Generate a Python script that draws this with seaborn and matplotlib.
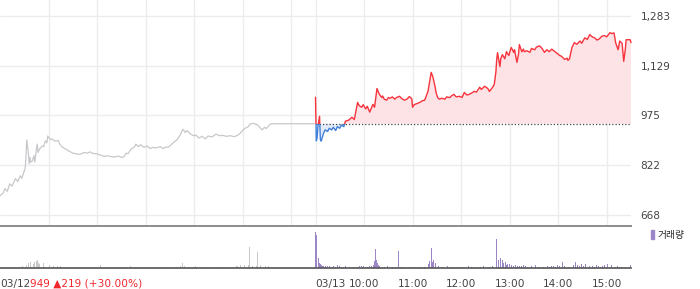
import matplotlib
matplotlib.use("Agg")
import matplotlib.pyplot as plt
import seaborn as sns
import numpy as np
from matplotlib.patches import Rectangle, Patch

# ---------------- data ----------------
base_price = 949
session_len = 390  # minutes 09:00-15:30

day1_min = [0, 4, 6, 9, 12, 15, 19, 22, 25, 27, 30, 31, 32, 33, 35, 36, 37, 38, 40, 42, 43, 45, 46, 47,
            49, 52, 54, 56, 58, 59, 62, 64, 68, 72, 74, 77, 80, 83, 87, 90, 94, 99, 104, 108, 111, 115,
            120, 124, 129, 132, 136, 141, 146, 150, 153, 156, 158, 162, 166, 168, 171, 174, 178, 182,
            186, 189, 193, 198, 202, 205, 208, 212, 215, 219, 223, 226, 229, 231, 235, 239, 242, 246,
            250, 254, 257, 262, 267, 271, 275, 280, 285, 289, 293, 297, 299, 303, 307, 309, 313, 317,
            319, 322, 324, 327, 329, 332, 334, 336, 389]
day1_price = [726, 735, 748, 740, 763, 756, 779, 770, 788, 780, 803, 810, 840, 899, 860, 825, 845, 830,
              834, 850, 830, 870, 886, 860, 871, 880, 878, 896, 890, 911, 900, 902, 895, 897, 885, 877,
              872, 868, 862, 858, 856, 854, 860, 858, 862, 857, 856, 852, 848, 850, 848, 846, 849, 845,
              846, 858, 856, 870, 877, 886, 878, 884, 876, 880, 872, 876, 874, 878, 872, 877, 876, 885,
              892, 900, 915, 932, 922, 928, 918, 912, 914, 905, 910, 902, 911, 908, 917, 912, 913, 910,
              912, 909, 912, 920, 926, 935, 940, 948, 950, 947, 944, 935, 930, 938, 934, 942, 948, 949,
              949]

day2_min = [0, 1, 2, 3, 5, 6, 7, 10, 12, 15, 17, 20, 22, 25, 27, 30, 32, 35, 37, 41, 45, 48, 52, 54, 57,
            59, 62, 64, 67, 71, 73, 76, 78, 79, 82, 83, 85, 88, 90, 92, 95, 98, 100, 104, 106, 110, 113,
            116, 119, 120, 122, 126, 129, 132, 135, 139, 143, 145, 148, 149, 151, 153, 156, 160, 162,
            166, 168, 171, 174, 178, 181, 184, 187, 190, 193, 196, 199, 203, 205, 209, 213, 215, 219,
            221, 223, 224, 225, 226, 228, 229, 231, 234, 236, 239, 241, 242, 245, 246, 249, 251, 252,
            255, 257, 258, 261, 265, 267, 271, 273, 277, 280, 283, 286, 289, 292, 296, 298, 302, 304,
            308, 311, 312, 314, 317, 320, 323, 327, 329, 333, 336, 339, 342, 345, 348, 351, 354, 357,
            360, 364, 366, 369, 371, 374, 375, 376, 379, 381, 383, 384, 386, 389, 390]
day2_price = [1031, 896, 905, 940, 972, 900, 895, 920, 930, 925, 935, 930, 938, 928, 940, 935, 945, 940,
              957, 960, 969, 962, 1015, 1005, 1000, 1008, 995, 1003, 985, 1009, 1000, 1058, 1045, 1040,
              1030, 1035, 1025, 1022, 1030, 1028, 1032, 1025, 1030, 1034, 1028, 1022, 1025, 1033, 1026,
              1000, 1008, 1012, 1015, 1020, 1022, 1049, 1108, 1095, 1062, 1046, 1030, 1025, 1028, 1025,
              1032, 1030, 1035, 1040, 1032, 1034, 1030, 1046, 1038, 1040, 1044, 1049, 1047, 1062, 1055,
              1065, 1058, 1049, 1062, 1071, 1110, 1148, 1169, 1155, 1126, 1150, 1163, 1150, 1172, 1160,
              1178, 1185, 1170, 1178, 1139, 1165, 1194, 1172, 1180, 1172, 1175, 1170, 1182, 1178, 1186,
              1190, 1182, 1170, 1178, 1172, 1180, 1172, 1168, 1160, 1158, 1148, 1152, 1145, 1150, 1185,
              1200, 1195, 1205, 1198, 1215, 1210, 1225, 1218, 1215, 1208, 1212, 1220, 1222, 1218, 1231,
              1228, 1230, 1200, 1178, 1190, 1205, 1198, 1142, 1180, 1209, 1209, 1209, 1200]

day1_vol_min = [2, 6, 10, 14, 17, 21, 25, 28, 31, 33, 35, 37, 38, 41, 42, 43, 45, 46, 47, 48, 49, 52, 54,
                57, 58, 61, 63, 66, 68, 71, 73, 75, 79, 83, 87, 92, 96, 101, 106, 111, 116, 124, 129,
                136, 143, 151, 156, 161, 163, 166, 168, 171, 174, 178, 186, 192, 198, 204, 210, 218,
                223, 225, 226, 228, 230, 233, 235, 239, 242, 246, 250, 257, 262, 270, 275, 282, 288,
                292, 294, 297, 299, 302, 304, 307, 308, 309, 312, 314, 317, 318, 319, 322, 324, 328,
                332, 335, 340]
day1_vol = [1, 1, 1, 1, 1, 1, 1, 2, 3, 3, 5, 2, 6, 4, 3, 6, 7, 8, 7, 5, 4, 3, 5, 3, 2, 3, 2, 2, 2, 2,
            2, 2, 1, 1, 1, 1, 1, 1, 1, 1, 1, 3, 1, 1, 1, 1, 1, 2, 2, 1, 2, 1, 1, 1, 1, 1, 1, 1, 1, 1,
            2, 2, 5, 2, 2, 1, 1, 1, 2, 1, 1, 1, 1, 1, 1, 1, 2, 2, 2, 3, 2, 3, 2, 3, 21, 2, 2, 3, 2, 16,
            2, 3, 2, 2, 2, 6, 1]

day2_vol_min = [0, 1, 2, 4, 5, 6, 7, 9, 10, 12, 15, 17, 20, 22, 25, 27, 30, 32, 35, 37, 40, 42, 45, 47,
                49, 52, 54, 57, 59, 62, 64, 67, 69, 72, 73, 74, 75, 77, 78, 79, 82, 85, 89, 92, 95, 99,
                103, 105, 109, 113, 116, 120, 124, 127, 131, 135, 139, 140, 141, 143, 144, 145, 146,
                148, 149, 150, 152, 156, 160, 163, 167, 171, 174, 178, 182, 186, 189, 193, 197, 200,
                204, 208, 212, 215, 219, 223, 224, 226, 227, 228, 229, 231, 232, 233, 235, 236, 237,
                238, 240, 242, 245, 247, 250, 252, 255, 257, 260, 262, 265, 267, 270, 272, 275, 277,
                280, 282, 285, 287, 289, 292, 294, 297, 299, 302, 305, 308, 311, 313, 316, 319, 321,
                324, 326, 329, 331, 334, 337, 339, 342, 345, 347, 350, 352, 355, 357, 359, 361, 364,
                366, 369, 371, 373, 376, 378, 389]
day2_vol = [36, 33, 12, 10, 5, 4, 3, 2, 2, 2, 2, 2, 1, 2, 1, 3, 2, 1, 1, 2, 1, 1, 1, 1, 2, 1, 2, 2, 2,
            1, 1, 2, 2, 3, 7, 19, 8, 5, 3, 2, 1, 1, 2, 1, 1, 1, 17, 1, 1, 2, 1, 1, 1, 1, 1, 1, 2, 4,
            7, 20, 10, 6, 8, 5, 3, 2, 2, 1, 1, 2, 1, 1, 1, 1, 1, 1, 2, 1, 1, 1, 1, 2, 1, 1, 2, 4, 29,
            8, 9, 7, 10, 8, 5, 4, 6, 3, 4, 3, 4, 3, 2, 3, 2, 2, 2, 3, 2, 1, 2, 2, 7, 3, 2, 1, 2, 1, 1,
            2, 1, 2, 2, 1, 3, 2, 6, 2, 2, 1, 2, 3, 6, 3, 2, 4, 2, 4, 3, 2, 2, 1, 3, 2, 1, 2, 3, 2, 4,
            2, 3, 2, 1, 2, 1, 1, 3]

y_ticks = [668, 822, 975, 1129, 1283]
x_tick_labels = ["03/12", "03/13", "10:00", "11:00", "12:00", "13:00", "14:00", "15:00"]
info_text = "949 \u25b2219 (+30.00%)"
legend_label = "거래량"

# ---------------- style ----------------
sns.set_style("white")
plt.rcParams["font.family"] = ["DejaVu Sans", "Noto Sans CJK KR"]

RED = "#f7343d"
BLUE = "#3f7fd8"
GRAY_LINE = "#c8c8cc"
PURPLE = "#9b86c8"
GRID = "#ececec"

W, H = 700, 289
fig = plt.figure(figsize=(W / 100, H / 100), dpi=100)
ax = fig.add_axes([0, 1 - 225.5 / H, 631 / W, 225.5 / H])
axv = fig.add_axes([0, 1 - 267.7 / H, 631 / W, (267.7 - 225.5) / H])

total = 2 * session_len
x2 = np.array(day2_min) + session_len
p2 = np.array(day2_price)

# ---------------- price panel ----------------
ax.set_xlim(0, total)
ax.set_ylim(634, 1332)
ax.set_xticks([60, 120, 180, 240, 300, 360, 390, 450, 510, 570, 630, 690, 750])
ax.tick_params(axis="x", length=0, labelbottom=False)
ax.set_yticks(y_ticks)
ax.set_yticklabels([f"{v:,}" for v in y_ticks])
ax.yaxis.tick_right()
ax.tick_params(axis="y", length=0, pad=7, labelsize=7.6, labelcolor="#444444")
ax.grid(True, color=GRID, lw=1)
ax.set_axisbelow(True)
for s in ax.spines.values():
    s.set_visible(False)

sns.lineplot(x=day1_min, y=day1_price, color=GRAY_LINE, lw=0.9, ax=ax, sort=False)

ax.fill_between(x2, p2, base_price, where=p2 >= base_price, interpolate=True,
                color="#fde3e6", lw=0, zorder=1)
ax.fill_between(x2, p2, base_price, where=p2 <= base_price, interpolate=True,
                color="#e2ecf9", lw=0, zorder=1)
ax.hlines(base_price, session_len, total, colors="#444444", linestyles=(0, (1, 1.6)), lw=0.9, zorder=2)

sns.lineplot(x=x2, y=p2, color=RED, lw=1, ax=ax, sort=False)
clip_up = Rectangle((session_len - 10, base_price), session_len + 20, 1000, transform=ax.transData)
ax.lines[-1].set_clip_path(clip_up)
sns.lineplot(x=x2, y=p2, color=BLUE, lw=1, ax=ax, sort=False)
clip_dn = Rectangle((session_len - 10, 0), session_len + 20, base_price, transform=ax.transData)
ax.lines[-1].set_clip_path(clip_dn)
ax.set_xlabel("")
ax.set_ylabel("")

# ---------------- volume panel ----------------
axv.bar(day1_vol_min, day1_vol, width=0.85, color="#c8c8c8", lw=0)
axv.bar(np.array(day2_vol_min) + session_len, day2_vol, width=0.85, color=PURPLE, lw=0)
axv.set_xlim(0, total)
axv.set_ylim(0, 42.2)
axv.set_yticks([])
axv.set_xticks([0, 390, 450, 510, 570, 630, 690, 750])
axv.set_xticklabels(x_tick_labels)
axv.tick_params(axis="x", length=4, width=1, color="#555555", pad=4, labelsize=7.6,
                labelcolor="#444444", direction="out")
labels = axv.get_xticklabels()
labels[0].set_ha("left")
labels[1].set_ha("left")
for side in ["left", "right"]:
    axv.spines[side].set_visible(False)
axv.spines["top"].set_color("#8c8c8c")
axv.spines["top"].set_linewidth(1.4)
axv.spines["bottom"].set_color("#555555")
axv.spines["bottom"].set_linewidth(1.2)

axv.annotate(info_text, xy=(1, 0), xycoords=labels[0], ha="left", va="bottom",
             fontsize=7.6, color="#f0282d")

axv.legend(handles=[Patch(color=PURPLE, label=legend_label)], loc="upper left",
           bbox_to_anchor=(651 / W, 1 - 230 / H), bbox_transform=fig.transFigure,
           frameon=False, handlelength=0.35, handleheight=1.1, handletextpad=0.35,
           borderpad=0, borderaxespad=0, prop={"family": ["Noto Sans CJK KR"], "size": 7})

fig.savefig("out.png", dpi=100)
